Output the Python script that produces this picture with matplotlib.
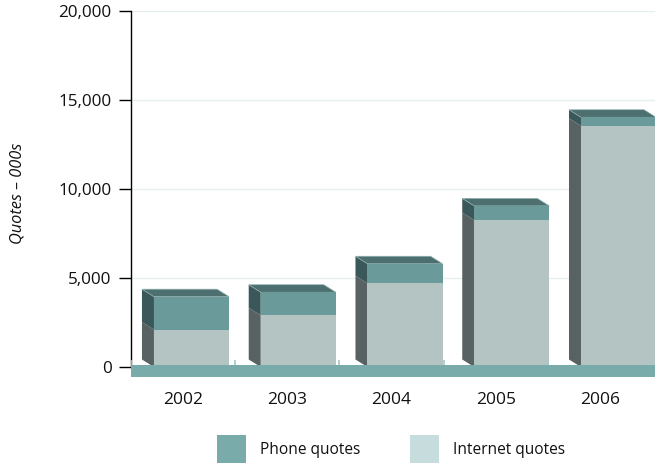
import matplotlib
matplotlib.use("Agg")
import matplotlib.pyplot as plt
from matplotlib.patches import Polygon, Rectangle
from matplotlib.transforms import IdentityTransform
import numpy as np

# ---- data -------------------------------------------------------------
years = ["2002", "2003", "2004", "2005", "2006"]
internet_quotes = [2100, 2900, 4700, 8250, 13550]
phone_quotes = [1850, 1300, 1100, 800, 480]
y_ticks = [0, 5000, 10000, 15000, 20000]

# ---- style ------------------------------------------------------------
plt.rcParams["font.family"] = ["Open Sans", "DejaVu Sans"]
TEXT = "#111111"
FRONT_PHONE = "#6b9a9a"
FRONT_NET = "#b3c4c3"
SIDE_PHONE = "#3a5759"
SIDE_NET = "#596263"
TOP = "#4e6f70"
FLOOR = "#7aabab"
FLOOR_TICK = "#a3c8c8"
GRID = "#e7eeee"
LEG_PHONE = "#7aabab"
LEG_NET = "#c6dcdd"

W, H = 655, 463
fig = plt.figure(figsize=(W / 100, H / 100), dpi=100)

ax_l, ax_r, ax_t, ax_b = 131, 655, 11, 380
ax = fig.add_axes([ax_l / W, (H - ax_b) / H, (ax_r - ax_l) / W, (ax_b - ax_t) / H])
ax.set_ylim(-730, 20000)
ax.set_xlim(-0.4986, 4.525)

# grid on the back wall
for v in y_ticks[1:]:
    ax.axhline(v, color=GRID, lw=1.0, zorder=0)

# 3-D box geometry (perspective spreads the bars a little)
bar_w = 0.72
spread = 1.0235
shift = 0.0815
depth_dx, depth_dy = -12.0, 7.5


def face(pts_front, back=False):
    d = ax.transData.transform(pts_front)
    if back:
        d = d + np.array([depth_dx, depth_dy])
    return d


n = len(years)
for i in range(n):
    xc = shift + spread * i
    x0, x1 = xc - bar_w / 2, xc + bar_w / 2
    net = internet_quotes[i]
    tot = net + phone_quotes[i]

    # left side faces
    for lo, hi, col in ((0, net, SIDE_NET), (net, tot, SIDE_PHONE)):
        f = face([(x0, lo), (x0, hi)])
        b = face([(x0, lo), (x0, hi)], back=True)
        poly = np.array([f[0], f[1], b[1], b[0]])
        ax.add_patch(Polygon(poly, closed=True, transform=IdentityTransform(),
                             facecolor=col, edgecolor="none", zorder=2))
    # top face
    f = face([(x0, tot), (x1, tot)])
    b = face([(x0, tot), (x1, tot)], back=True)
    poly = np.array([f[0], f[1], b[1], b[0]])
    ax.add_patch(Polygon(poly, closed=True, transform=IdentityTransform(),
                         facecolor=TOP, edgecolor="#8fb0b0", lw=0.5, zorder=2))
    # front faces
    ax.add_patch(Rectangle((x0, 0), bar_w, net, facecolor=FRONT_NET,
                           edgecolor="none", zorder=2.2))
    ax.add_patch(Rectangle((x0, net), bar_w, phone_quotes[i], facecolor=FRONT_PHONE,
                           edgecolor="none", zorder=2.2))

# floor band
ax.axhspan(-560, 110, color=FLOOR, lw=0, zorder=3)
for k in range(n + 1):
    ax.plot([k - 0.5, k - 0.5], [110, 390], color=FLOOR_TICK, lw=1.2,
            zorder=3, solid_capstyle="butt")

# axes styling
for s in ("top", "right", "bottom"):
    ax.spines[s].set_visible(False)
ax.spines["left"].set_bounds(0, 20000)
ax.spines["left"].set_color("black")
ax.spines["left"].set_linewidth(1.0)
ax.set_yticks(y_ticks)
ax.set_yticklabels([f"{v:,}" for v in y_ticks])
ax.tick_params(axis="y", direction="out", length=9, width=1.0, color="black",
               pad=5, labelsize=12.3, labelcolor=TEXT)
ax.set_xticks(range(n))
ax.set_xticklabels(years)
ax.tick_params(axis="x", length=0, pad=8.5, labelsize=12.5, labelcolor=TEXT)

fig.text(18 / W, 1 - 193 / H, "Quotes – 000s", rotation=90, style="italic",
         ha="center", va="center", fontsize=11.8, color=TEXT)

# legend
for (sx, label, col) in ((217, "Phone quotes", LEG_PHONE), (410, "Internet quotes", LEG_NET)):
    fig.add_artist(Rectangle((sx / W, 0), 29 / W, 28 / H, transform=fig.transFigure,
                             facecolor=col, edgecolor="none"))
    fig.text((sx + 43) / W, 1 - 450 / H, label, ha="left", va="center",
             fontsize=11.2, color=TEXT)

fig.savefig("out.png", dpi=100)
